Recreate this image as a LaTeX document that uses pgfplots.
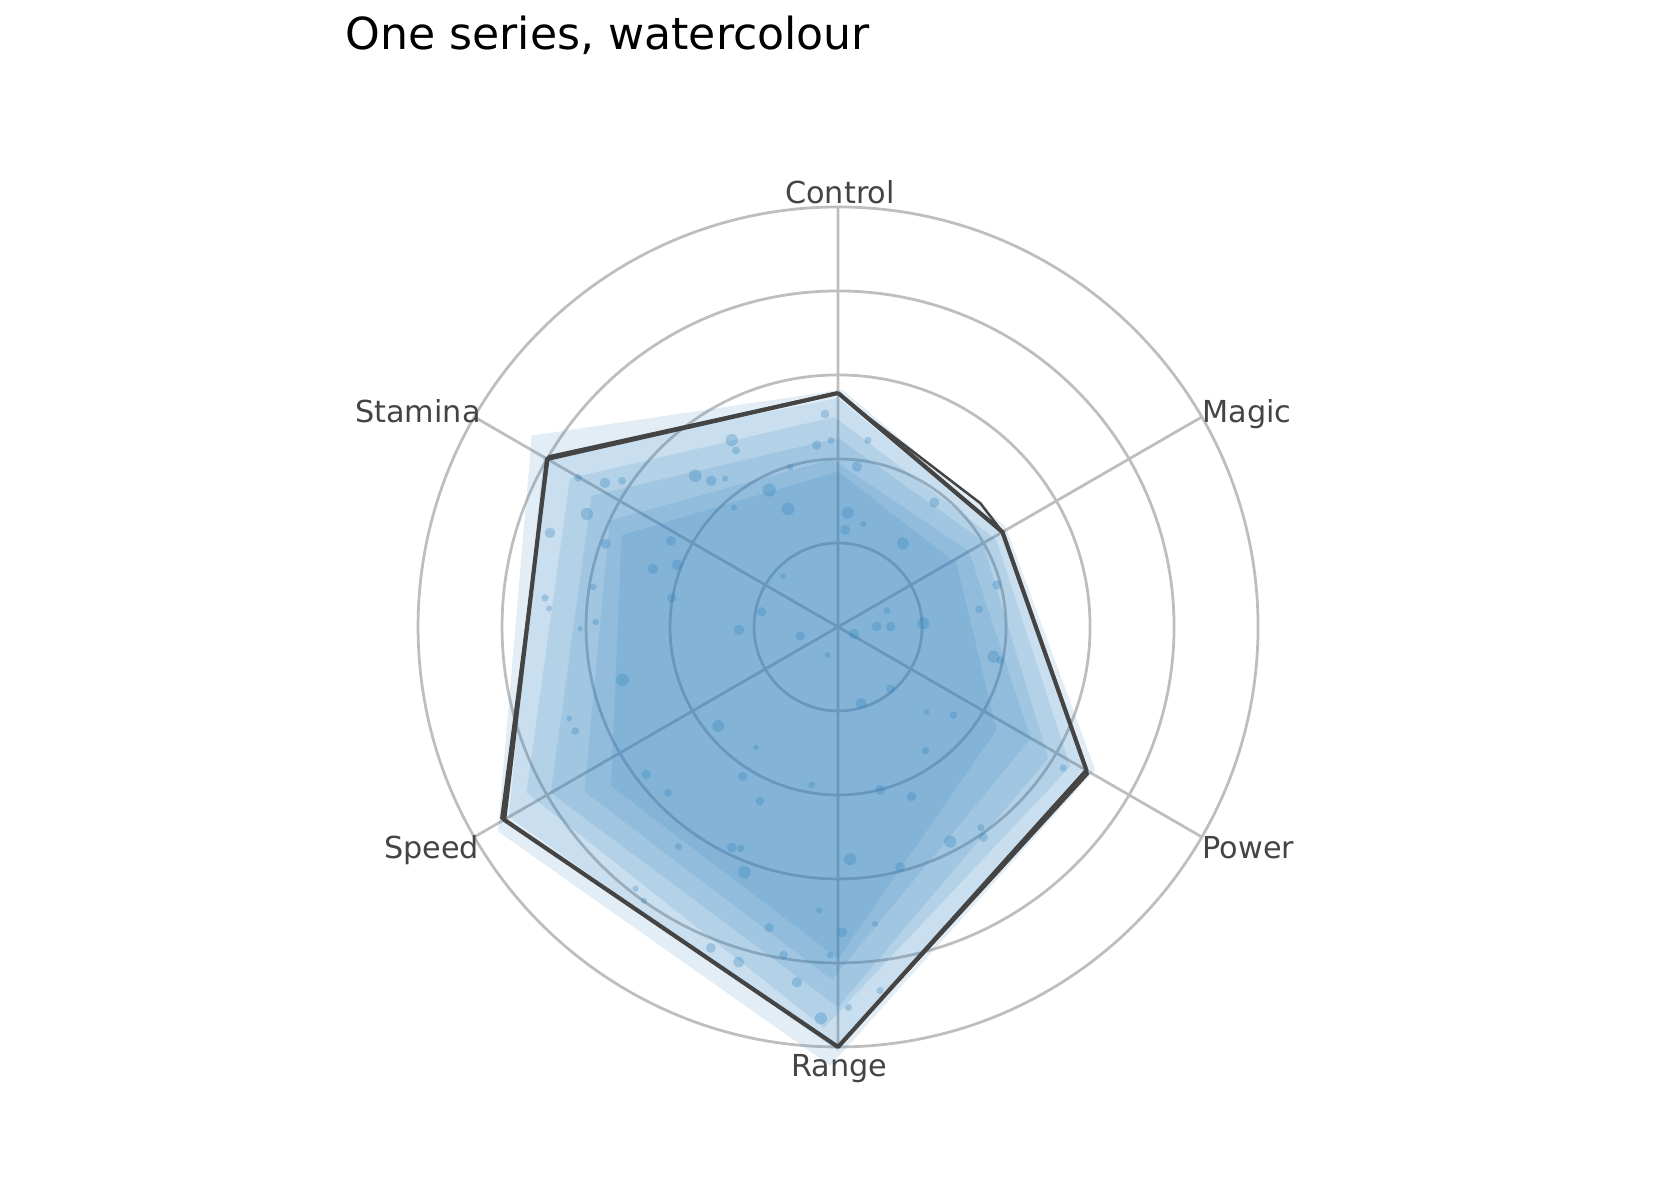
\documentclass[border=0pt]{standalone}
\usepackage{fontspec}
\setmainfont{DejaVu Sans}
\usepackage{pgfplots}
\pgfplotsset{compat=1.18}
\usepgfplotslibrary{polar}
\usepackage{pgfplotstable}

\definecolor{wblue}{HTML}{3182BD}
\definecolor{gridgray}{HTML}{BEBEBE}
\definecolor{inkgray}{HTML}{444444}

% speckles (cartesian, outer ring = 1)
\pgfplotstableread{
x y s
-0.253 0.445 2.2
-0.243 0.420 1.4
-0.031 0.507 1.6
-0.051 0.433 1.7
-0.017 0.444 1.2
0.071 0.444 1.3
0.045 0.382 1.9
-0.114 0.381 1.2
-0.340 0.360 2.3
-0.302 0.348 1.9
-0.269 0.353 1.1
-0.555 0.343 1.9
-0.514 0.348 1.4
-0.619 0.355 1.4
-0.164 0.326 2.4
-0.119 0.281 2.3
-0.248 0.284 1.1
0.023 0.272 2.2
0.060 0.245 1.1
0.017 0.231 1.8
-0.598 0.269 2.2
-0.686 0.224 1.9
-0.553 0.198 1.8
-0.398 0.205 1.8
-0.383 0.148 2.0
-0.441 0.138 1.9
-0.396 0.069 1.7
-0.583 0.095 1.2
-0.698 0.069 1.3
-0.688 0.044 1.1
-0.577 0.012 1.2
-0.614 -0.004 1.0
-0.131 0.120 1.1
-0.182 0.036 1.7
-0.236 -0.007 1.9
-0.090 -0.021 1.7
0.038 -0.017 1.9
0.092 0.001 1.8
0.229 0.296 1.8
0.154 0.199 2.2
0.378 0.100 1.7
0.336 0.042 1.4
0.116 0.039 1.3
0.125 0.001 1.8
0.203 0.009 2.2
-0.025 -0.067 1.1
0.370 -0.071 2.2
0.386 -0.079 1.4
0.125 -0.148 1.6
0.055 -0.182 2.0
0.211 -0.203 1.0
0.275 -0.210 1.4
0.208 -0.295 1.4
0.536 -0.336 1.3
-0.063 -0.376 1.2
0.100 -0.388 1.8
0.175 -0.404 1.7
-0.513 -0.126 2.3
-0.285 -0.236 2.2
-0.195 -0.287 1.0
-0.640 -0.218 1.0
-0.626 -0.248 1.4
-0.457 -0.351 1.7
-0.227 -0.356 1.7
-0.405 -0.395 1.4
-0.186 -0.414 1.6
-0.380 -0.523 1.3
-0.253 -0.525 1.8
-0.232 -0.527 1.4
-0.223 -0.584 2.3
0.029 -0.553 2.2
-0.482 -0.623 1.1
-0.462 -0.652 1.1
-0.045 -0.675 1.1
0.010 -0.727 1.8
-0.164 -0.716 1.7
-0.130 -0.781 1.6
-0.019 -0.781 1.2
-0.303 -0.764 1.8
-0.237 -0.798 2.0
-0.098 -0.846 1.9
-0.041 -0.932 2.2
0.025 -0.906 1.3
0.267 -0.511 2.2
0.340 -0.478 1.3
0.346 -0.501 1.6
0.148 -0.572 1.8
0.088 -0.707 1.1
0.100 -0.866 1.3
}\speckles

\begin{document}
\begin{tikzpicture}
\path[use as bounding box] (0,0) rectangle (604.8pt,432pt);

\begin{polaraxis}[
    at={(301.7pt,206.3pt)}, anchor=center,
    scale only axis, width=302.4pt, height=302.4pt,
    xmin=0, xmax=360, ymin=0, ymax=1,
    xtick={30,90,150,210,270,330},
    ytick={0.2,0.4,0.6,0.8},
    xticklabels={}, yticklabels={},
    major tick length=0pt,
    grid=major,
    major grid style={draw=gridgray, line width=1pt},
    x axis line style={draw=gridgray, line width=1pt},
    y axis line style={draw=none},
    clip=false,
]

% washes, outer to inner
\addplot[fill=wblue, fill opacity=0.14, draw=none] coordinates {
    (89,0.565) (31,0.465) (-29,0.70) (-91,1.045) (-149,0.945) (148,0.86) (89,0.565)};
\addplot[fill=wblue, fill opacity=0.14, draw=none] coordinates {
    (90,0.545) (30,0.45) (-30,0.675) (-90,1.01) (-150,0.905) (150,0.81) (90,0.545)};
\addplot[fill=wblue, fill opacity=0.14, draw=none] coordinates {
    (91,0.50) (29,0.43) (-31,0.645) (-92,0.955) (-152,0.84) (151,0.73) (91,0.50)};
\addplot[fill=wblue, fill opacity=0.14, draw=none] coordinates {
    (90,0.45) (31,0.40) (-32,0.59) (-90,0.905) (-150,0.79) (152,0.665) (90,0.45)};
\addplot[fill=wblue, fill opacity=0.14, draw=none] coordinates {
    (92,0.40) (30,0.36) (-30,0.53) (-91,0.84) (-147,0.72) (155,0.60) (92,0.40)};
\addplot[fill=wblue, fill opacity=0.14, draw=none] coordinates {
    (90,0.37) (28,0.32) (-33,0.45) (-90,0.79) (-145,0.66) (157,0.56) (90,0.37)};

% speckles
\addplot[scatter, only marks, mark=*, data cs=cart,
    mark options={draw opacity=0, fill=wblue, fill opacity=0.3},
    scatter/use mapped color={draw opacity=0, fill=wblue},
    visualization depends on={\thisrow{s}\as\dotsize},
    scatter/@pre marker code/.append style={/tikz/mark size=\dotsize pt},
] table[x=x, y=y] {\speckles};

% outline, drawn twice like a pen
\addplot[draw=inkgray, line width=0.9pt, line join=round] coordinates {
    (90,0.557) (82,0.505) (59.3,0.443) (41,0.449) (30,0.452) (-30.5,0.69)
    (-90,1.0) (-150.4,0.922) (149.5,0.80) (90.5,0.557)};
\addplot[draw=inkgray, line width=1.5pt, line join=round] coordinates {
    (90,0.557) (30,0.452) (-30,0.683) (-90,1.0) (-150,0.918) (150,0.80) (90,0.557)};

\end{polaraxis}

\begin{scope}[every node/.style={inner sep=0pt, text=inkgray, font=\fontsize{10.9}{13}\selectfont}]
\node[anchor=base] at (302.4pt,358.6pt) {Control};
\node[anchor=base west] at (432.7pt,280pt) {Magic};
\node[anchor=base west] at (432.7pt,123.1pt) {Power};
\node[anchor=base] at (302.2pt,44.6pt) {Range};
\node[anchor=base east] at (172.7pt,122.8pt) {Speed};
\node[anchor=base east] at (173.2pt,280pt) {Stamina};
\end{scope}

\node[anchor=base west, inner sep=0pt, font=\fontsize{15.9}{19}\selectfont]
    at (124.2pt,414pt) {One series, watercolour};
\end{tikzpicture}
\end{document}
